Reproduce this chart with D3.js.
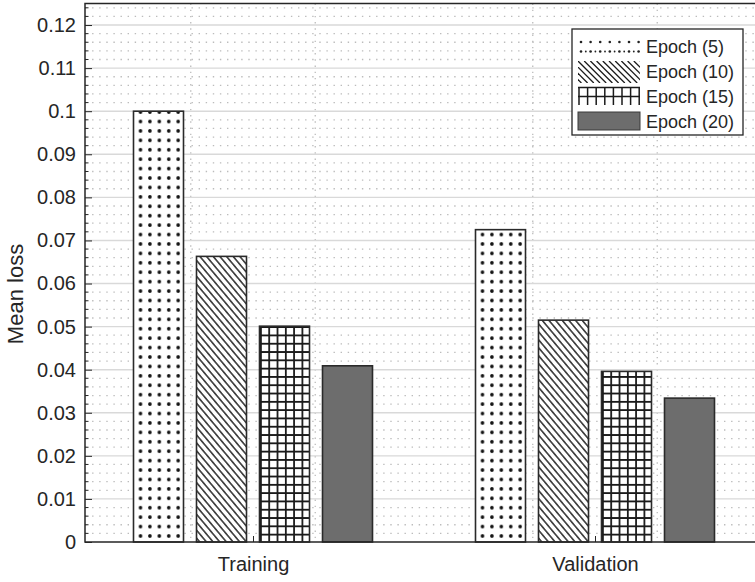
<!DOCTYPE html>
<html>
<head>
<meta charset="utf-8">
<script src="https://cdn.jsdelivr.net/npm/d3@7"></script>
<style>
  html, body { margin: 0; padding: 0; background: #fff; }
  svg { display: block; font-family: "Liberation Sans", Arial, Helvetica, sans-serif; }
</style>
</head>
<body>
<svg id="chart" width="755" height="582"></svg>
<script>
// Mean loss per data split and training length
const splits = ["Training", "Validation"];
const seriesNames = ["Epoch (5)", "Epoch (10)", "Epoch (15)", "Epoch (20)"];
const epoch5  = [0.1,    0.0725];
const epoch10 = [0.0663, 0.0515];
const epoch15 = [0.0501, 0.0396];
const epoch20 = [0.0409, 0.0334];
const yTicks = [0, 0.01, 0.02, 0.03, 0.04, 0.05, 0.06, 0.07, 0.08, 0.09, 0.1, 0.11, 0.12];
const xMinorTicks = [0.818, 1.182, 1.818, 2.182];
const yLabel = "Mean loss";

const seriesValues = [epoch5, epoch10, epoch15, epoch20];

const svg = d3.select("#chart");
const plotLeft = 85, plotTop = 3.5, plotBottom = 542;
const axisColor = "#262626";

const x = d3.scaleLinear().domain([1, 2]).range([253, 595]);
const plotRight = x(2.5);
const y = d3.scaleLinear().domain([0, 0.125]).range([plotBottom, plotTop]);
const inner = d3.scaleBand().domain(d3.range(seriesNames.length)).range([-126, 126])
  .paddingInner(13 / 63).paddingOuter(6.5 / 63);

const defs = svg.append("defs");

// ---- grid ----
const grid = svg.append("g");
const minorY = d3.range(0, 0.1251, 0.002).filter(v => Math.abs(Math.round(v * 100) - v * 100) > 1e-6);
grid.selectAll("line.minor").data(minorY).join("line")
  .attr("x1", plotLeft).attr("x2", plotRight)
  .attr("y1", d => y(d)).attr("y2", d => y(d))
  .attr("stroke", "#bcbcbc").attr("stroke-width", 1.3)
  .attr("stroke-dasharray", "1.4,5.7");
grid.selectAll("line.minorx").data(xMinorTicks).join("line")
  .attr("x1", d => x(d)).attr("x2", d => x(d))
  .attr("y1", plotTop).attr("y2", plotBottom)
  .attr("stroke", "#bcbcbc").attr("stroke-width", 1.3)
  .attr("stroke-dasharray", "1.4,4.8");
grid.selectAll("line.major").data(yTicks.filter(d => d > 0)).join("line")
  .attr("x1", plotLeft).attr("x2", plotRight)
  .attr("y1", d => y(d)).attr("y2", d => y(d))
  .attr("stroke", "#d9d9d9").attr("stroke-width", 1.4);

// ---- hatch patterns, one tile set anchored on each bar ----
function makePattern(id, s, bx, by) {
  if (s === 0) {
    const p = defs.append("pattern").attr("id", id).attr("patternUnits", "userSpaceOnUse")
      .attr("x", bx + 2.3).attr("y", by - 1.3).attr("width", 9.42).attr("height", 9.42);
    p.append("circle").attr("cx", 4.7).attr("cy", 4.7).attr("r", 1.8).attr("fill", "#111");
  } else if (s === 1) {
    const p = defs.append("pattern").attr("id", id).attr("patternUnits", "userSpaceOnUse")
      .attr("x", bx).attr("y", by).attr("width", 5.1).attr("height", 20)
      .attr("patternTransform", `rotate(-40 ${bx} ${by})`);
    p.append("line").attr("x1", 2.55).attr("x2", 2.55).attr("y1", 0).attr("y2", 20)
      .attr("stroke", "#1a1a1a").attr("stroke-width", 1.4);
  } else if (s === 2) {
    const p = defs.append("pattern").attr("id", id).attr("patternUnits", "userSpaceOnUse")
      .attr("x", bx + 0.5).attr("y", by).attr("width", 8.3).attr("height", 8.3);
    p.append("path").attr("d", "M0.9,0V8.3M0,0.9H8.3")
      .attr("stroke", "#1a1a1a").attr("stroke-width", 1.8).attr("fill", "none");
  }
}

// ---- bars ----
const bars = svg.append("g");
splits.forEach((split, i) => {
  const cx = x(i + 1);
  seriesValues.forEach((vals, s) => {
    const bx = cx + inner(s);
    const yt = y(vals[i]);
    const h = plotBottom - yt;
    const id = `hatch-${i}-${s}`;
    bars.append("rect").attr("x", bx).attr("y", yt)
      .attr("width", inner.bandwidth()).attr("height", h)
      .attr("fill", s === 3 ? "#6d6d6d" : "#fff");
    if (s !== 3) {
      makePattern(id, s, bx, plotBottom);
      bars.append("rect").attr("x", bx).attr("y", yt)
        .attr("width", inner.bandwidth()).attr("height", h)
        .attr("fill", `url(#${id})`);
    }
    bars.append("rect").attr("x", bx).attr("y", yt)
      .attr("width", inner.bandwidth()).attr("height", h)
      .attr("fill", "none").attr("stroke", "#2a2a2a").attr("stroke-width", 1.6);
  });
});

// ---- axes ----
const yAxis = d3.axisLeft(y).tickValues(yTicks)
  .tickSize(-7).tickPadding(16)
  .tickFormat(d => String(+d.toFixed(2)));
const gy = svg.append("g").attr("transform", `translate(${plotLeft},0)`).call(yAxis);
gy.attr("font-family", null).attr("font-size", null);
gy.select(".domain").remove();
gy.selectAll("line").attr("stroke", axisColor);
gy.selectAll("text").attr("fill", axisColor).style("font-size", "20px").attr("x", -9);

// minor y ticks
svg.append("g").selectAll("line").data(minorY).join("line")
  .attr("x1", plotLeft).attr("x2", plotLeft + 3.5)
  .attr("y1", d => y(d)).attr("y2", d => y(d))
  .attr("stroke", axisColor).attr("stroke-width", 1);

const xAxis = d3.axisBottom(x).tickValues([1, 2]).tickSize(-6).tickPadding(15)
  .tickFormat(d => splits[d - 1]);
const gx = svg.append("g").attr("transform", `translate(0,${plotBottom})`).call(xAxis);
gx.attr("font-family", null).attr("font-size", null);
gx.select(".domain").remove();
gx.selectAll("line").attr("stroke", axisColor);
gx.selectAll("text").attr("fill", axisColor).style("font-size", "20px");

// axis frame
svg.append("path")
  .attr("d", `M${plotRight},${plotTop}H${plotLeft}V${plotBottom}H${plotRight}`)
  .attr("fill", "none").attr("stroke", axisColor).attr("stroke-width", 1.5);

// y label
svg.append("text")
  .attr("transform", `translate(23,294) rotate(-90)`)
  .attr("text-anchor", "middle")
  .attr("fill", axisColor).style("font-size", "22px")
  .text(yLabel);

// ---- legend ----
const lg = svg.append("g").attr("transform", "translate(572,29)");
lg.append("rect").attr("x", 0).attr("y", 0).attr("width", 171).attr("height", 106)
  .attr("fill", "#fff").attr("stroke", axisColor).attr("stroke-width", 1.3);
const sw = { x: 6, w: 62 };
const rowY = d => 12 + d * 25;
seriesNames.forEach((name, s) => {
  const g = lg.append("g").attr("transform", `translate(0,${rowY(s)})`);
  if (s === 0) {
    g.selectAll("circle.a").data(d3.range(7)).join("circle")
      .attr("cx", d => sw.x + 3 + d * 9.6).attr("cy", 1).attr("r", 1.3).attr("fill", "#222");
    g.selectAll("circle.b").data(d3.range(13)).join("circle")
      .attr("cx", d => sw.x + 3 + d * 4.8).attr("cy", 10.5).attr("r", d => d % 2 ? 0.9 : 1.3)
      .attr("fill", "#222");
  } else if (s === 1) {
    const cid = "lg-clip-1";
    defs.append("clipPath").attr("id", cid).append("rect")
      .attr("x", sw.x).attr("y", -5).attr("width", sw.w).attr("height", 22);
    const lines = g.append("g").attr("clip-path", `url(#${cid})`);
    lines.selectAll("line").data(d3.range(-4, 14)).join("line")
      .attr("x1", d => sw.x + d * 6.2).attr("y1", -5)
      .attr("x2", d => sw.x + d * 6.2 + 22).attr("y2", 17)
      .attr("stroke", "#1a1a1a").attr("stroke-width", 1.3);
  } else if (s === 2) {
    g.selectAll("line.v").data(d3.range(8)).join("line")
      .attr("x1", d => sw.x + 1 + d * 8.6).attr("x2", d => sw.x + 1 + d * 8.6)
      .attr("y1", -4).attr("y2", 14)
      .attr("stroke", "#1a1a1a").attr("stroke-width", 1.5);
    g.selectAll("line.h").data([-3.5, 5.5]).join("line")
      .attr("x1", sw.x).attr("x2", sw.x + sw.w).attr("y1", d => d).attr("y2", d => d)
      .attr("stroke", "#1a1a1a").attr("stroke-width", 1.5);
  } else {
    g.append("rect").attr("x", sw.x).attr("y", -4).attr("width", sw.w).attr("height", 18)
      .attr("fill", "#6d6d6d").attr("stroke", "#3a3a3a").attr("stroke-width", 1);
  }
  g.append("text").attr("x", 74).attr("y", 12.3)
    .attr("fill", axisColor).style("font-size", "18px").text(name);
});
</script>
</body>
</html>
